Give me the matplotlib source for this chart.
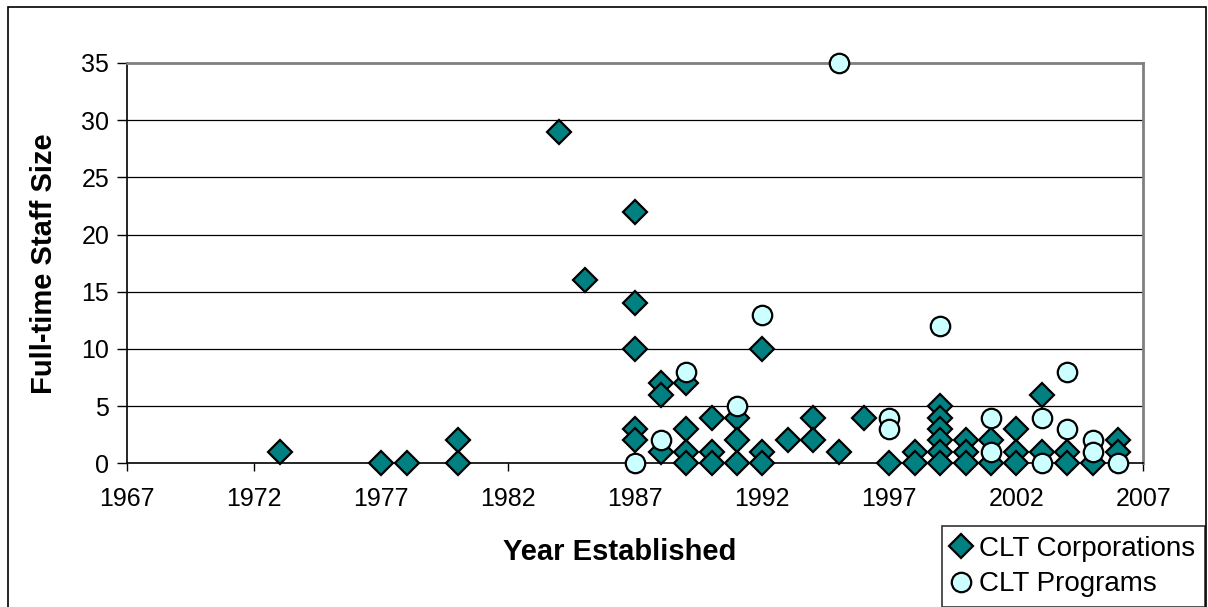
import matplotlib
matplotlib.use('Agg')
import matplotlib.pyplot as plt
from matplotlib.patches import Rectangle

plt.rcParams['font.family'] = ['Liberation Sans', 'DejaVu Sans']

# CLT Corporations (year established, full-time staff)
corp_years = [1973, 1977, 1978, 1980, 1980, 1984, 1985,
              1987, 1987, 1987, 1987, 1987,
              1988, 1988, 1988,
              1989, 1989, 1989, 1989,
              1990, 1990, 1990,
              1991, 1991, 1991,
              1992, 1992, 1992,
              1993, 1994, 1994, 1995, 1996, 1997,
              1998, 1998,
              1999, 1999, 1999, 1999, 1999, 1999,
              2000, 2000, 2000,
              2001, 2001,
              2002, 2002, 2002,
              2003, 2003,
              2004, 2004,
              2005,
              2006, 2006]
corp_staff = [1, 0, 0, 0, 2, 29, 16,
              22, 14, 10, 3, 2,
              7, 6, 1,
              7, 3, 1, 0,
              4, 1, 0,
              4, 2, 0,
              10, 1, 0,
              2, 4, 2, 1, 4, 0,
              1, 0,
              5, 4, 3, 2, 1, 0,
              2, 1, 0,
              2, 0,
              3, 1, 0,
              6, 1,
              1, 0,
              0,
              2, 1]

# CLT Programs
prog_years = [1987, 1988, 1989, 1991, 1992, 1995, 1997, 1997, 1999,
              2001, 2001, 2003, 2003, 2004, 2004, 2005, 2005, 2006]
prog_staff = [0, 2, 8, 5, 13, 35, 4, 3, 12,
              4, 1, 4, 0, 8, 3, 2, 1, 0]

x_ticks = [1967, 1972, 1977, 1982, 1987, 1992, 1997, 2002, 2007]
y_ticks = [0, 5, 10, 15, 20, 25, 30, 35]

W, H = 1208, 607
fig = plt.figure(figsize=(W / 100, H / 100), dpi=100)
ax = fig.add_axes([127.3 / W, 1 - 463.3 / H, (1143.3 - 127.3) / W, (463.3 - 63) / H])

for y in y_ticks[1:-1]:
    ax.axhline(y, color='black', lw=0.9, zorder=1)

ax.plot(corp_years, corp_staff, linestyle='none', marker='D', markersize=12,
        markerfacecolor='#008080', markeredgecolor='black', markeredgewidth=1.6,
        clip_on=False, zorder=3, label='CLT Corporations')
ax.plot(prog_years, prog_staff, linestyle='none', marker='o', markersize=14,
        markerfacecolor='#CCFFFF', markeredgecolor='black', markeredgewidth=1.6,
        clip_on=False, zorder=4, label='CLT Programs')

ax.set_xlim(1967, 2007)
ax.set_ylim(0, 35)
ax.set_xticks(x_ticks)
ax.set_yticks(y_ticks)
ax.tick_params(axis='x', direction='out', length=6, width=1, pad=11, labelsize=18)
ax.tick_params(axis='y', direction='out', length=7, width=1, pad=6, labelsize=18)

ax.spines['left'].set_color('black')
ax.spines['bottom'].set_color('black')
ax.spines['left'].set_linewidth(1.2)
ax.spines['bottom'].set_linewidth(1.2)
ax.spines['top'].set_color('#808080')
ax.spines['right'].set_color('#808080')
ax.spines['top'].set_linewidth(2)
ax.spines['right'].set_linewidth(2)
for s in ax.spines.values():
    s.set_zorder(2)

fig.text(620 / W, 1 - 552 / H, 'Year Established', ha='center', va='center',
         fontsize=21, fontweight='bold')
fig.text(44 / W, 1 - 263.5 / H, 'Full-time Staff Size', ha='center', va='center',
         rotation=90, fontsize=21, fontweight='bold')

leg = fig.legend(loc='upper left', bbox_to_anchor=(941.7 / W, 1 - 526 / H),
                 fontsize=20, frameon=True, fancybox=False, shadow=False,
                 handlelength=0.7, handletextpad=0.3, borderpad=0.35,
                 labelspacing=0.35, borderaxespad=0)
leg.get_frame().set_edgecolor('black')
leg.get_frame().set_linewidth(1.2)

# outer chart border
fig.patches.append(Rectangle((8 / W, -0.1), (1206 - 8) / W, 1.1 - 7 / H,
                             transform=fig.transFigure, fill=False,
                             edgecolor='black', lw=1.2))

fig.savefig('out.png', dpi=100)
